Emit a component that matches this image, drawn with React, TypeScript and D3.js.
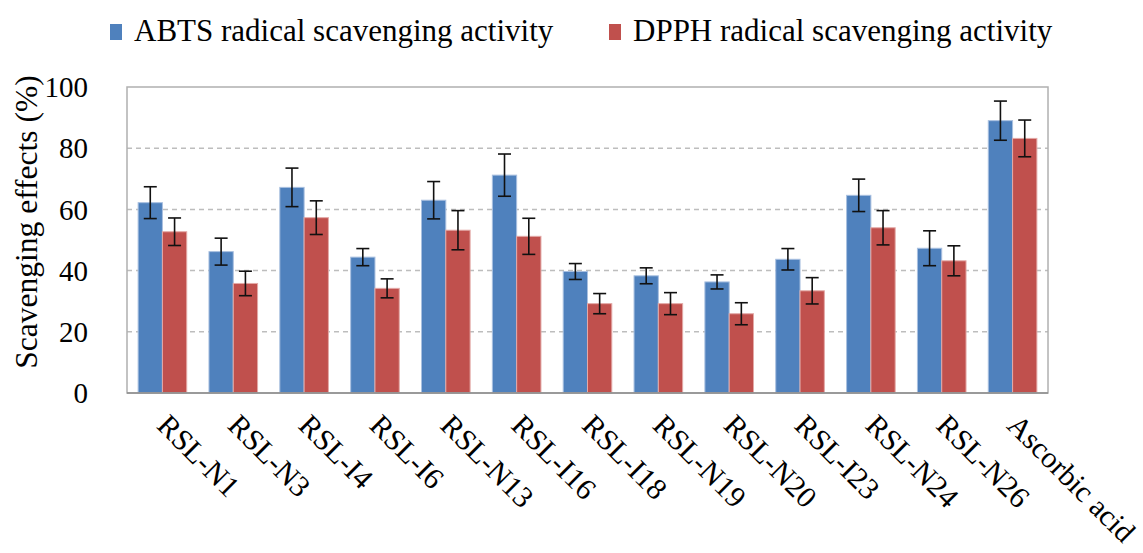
import React, { useEffect, useRef } from 'react';
import * as d3 from 'd3';

const categories = [
  'RSL-N1', 'RSL-N3', 'RSL-I4', 'RSL-I6', 'RSL-N13', 'RSL-I16', 'RSL-I18',
  'RSL-N19', 'RSL-N20', 'RSL-I23', 'RSL-N24', 'RSL-N26', 'Ascorbic acid'
];

const abtsValues = [62.2, 46.2, 67.2, 44.4, 63.0, 71.2, 39.7, 38.3, 36.3, 43.7, 64.6, 47.3, 89.0];
const abtsErrors = [5.2, 4.4, 6.3, 2.8, 6.1, 6.9, 2.6, 2.6, 2.3, 3.5, 5.3, 5.7, 6.4];
const dpphValues = [52.7, 35.8, 57.3, 34.2, 53.2, 51.2, 29.2, 29.2, 25.9, 33.4, 54.0, 43.2, 83.2];
const dpphErrors = [4.5, 4.0, 5.5, 3.1, 6.4, 5.9, 3.3, 3.6, 3.6, 4.3, 5.6, 4.9, 6.0];

const seriesNames = ['ABTS radical scavenging activity', 'DPPH radical scavenging activity'];
const yTicks = [0, 20, 40, 60, 80, 100];

const colors = ['#4F81BD', '#C0504D'];
const edgeColors = ['#a9c0e0', '#e3a9a7'];

const width = 1143;
const height = 553;
const font = '"Liberation Serif", "Times New Roman", serif';

const margins = { l: 127, t: 87, r: 95, b: 160 };

const App = () => {
  const container = useRef(null);

  useEffect(() => {
    document.body.style.margin = '0';
    drawChart();
  }, []);

  const drawChart = () => {
    const svg = d3
      .select(container.current)
      .selectAll('svg')
      .data([0])
      .join('svg')
      .attr('width', width)
      .attr('height', height)
      .style('display', 'block')
      .style('background', '#fff');

    svg.selectAll('*').remove();

    const plotwidth = width - margins.l - margins.r;
    const plotheight = height - margins.t - margins.b;

    const x0 = d3
      .scaleBand()
      .domain(categories)
      .range([margins.l, margins.l + plotwidth])
      .paddingInner(0.314)
      .paddingOuter(0.157);

    const x1 = d3.scaleBand().domain(['0', '1']).range([0, x0.bandwidth()]);

    const y = d3
      .scaleLinear()
      .domain([0, 100])
      .range([margins.t + plotheight, margins.t]);

    // gridlines
    svg
      .append('g')
      .selectAll('line')
      .data(yTicks.filter(t => t > 0 && t < 100))
      .join('line')
      .attr('x1', margins.l)
      .attr('x2', margins.l + plotwidth)
      .attr('y1', d => y(d))
      .attr('y2', d => y(d))
      .attr('stroke', '#bdbdbd')
      .attr('stroke-width', 1.5)
      .attr('stroke-dasharray', '5,4');

    // bars
    const series = [
      { vals: abtsValues, errs: abtsErrors },
      { vals: dpphValues, errs: dpphErrors }
    ];

    const groups = svg
      .append('g')
      .selectAll('g')
      .data(categories)
      .join('g')
      .attr('transform', d => `translate(${x0(d)},0)`);

    groups.each(function(cat, i) {
      const g = d3.select(this);
      series.forEach((s, si) => {
        const bx = x1(String(si));
        const bw = x1.bandwidth();
        g.append('rect')
          .attr('x', bx)
          .attr('y', y(s.vals[i]))
          .attr('width', bw)
          .attr('height', y(0) - y(s.vals[i]))
          .attr('fill', colors[si])
          .attr('stroke', edgeColors[si])
          .attr('stroke-width', 1);

        const cx = bx + bw / 2;
        const top = y(s.vals[i] + s.errs[i]);
        const bot = y(s.vals[i] - s.errs[i]);
        const cap = 6.5;
        g.append('line')
          .attr('x1', cx).attr('x2', cx)
          .attr('y1', top).attr('y2', bot)
          .attr('stroke', '#111').attr('stroke-width', 1.6);
        [top, bot].forEach(yy => {
          g.append('line')
            .attr('x1', cx - cap).attr('x2', cx + cap)
            .attr('y1', yy).attr('y2', yy)
            .attr('stroke', '#111').attr('stroke-width', 1.6);
        });
      });
    });

    // plot frame
    svg
      .append('rect')
      .attr('x', margins.l)
      .attr('y', margins.t)
      .attr('width', plotwidth)
      .attr('height', plotheight)
      .attr('fill', 'none')
      .attr('stroke', '#b0b0b0')
      .attr('stroke-width', 1.5);

    svg
      .append('line')
      .attr('x1', margins.l)
      .attr('x2', margins.l + plotwidth)
      .attr('y1', y(0))
      .attr('y2', y(0))
      .attr('stroke', '#8c8c8c')
      .attr('stroke-width', 1.5);

    // y tick labels
    svg
      .append('g')
      .selectAll('text')
      .data(yTicks)
      .join('text')
      .attr('x', margins.l - 39)
      .attr('y', d => y(d))
      .attr('dy', '0.35em')
      .attr('text-anchor', 'end')
      .style('font-family', font)
      .style('font-size', '29px')
      .attr('fill', '#000')
      .text(d => d);

    // y axis title
    svg
      .append('text')
      .attr('transform', `translate(37,222)rotate(-90)`)
      .attr('text-anchor', 'middle')
      .style('font-family', font)
      .style('font-size', '31.5px')
      .attr('fill', '#000')
      .text('Scavenging effects (%)');

    // x labels
    svg
      .append('g')
      .selectAll('text')
      .data(categories)
      .join('text')
      .attr('transform', d => `translate(${x0(d) + x0.bandwidth() / 2 - 7},${y(0) + 34})rotate(45)`)
      .attr('text-anchor', 'start')
      .style('font-family', font)
      .style('font-size', '30px')
      .attr('fill', '#000')
      .text(d => d);

    // legend
    const legendX = [110, 609];
    const legend = svg
      .append('g')
      .selectAll('g')
      .data(seriesNames)
      .join('g')
      .attr('transform', (d, i) => `translate(${legendX[i]},24)`);
    legend
      .append('rect')
      .attr('width', 12)
      .attr('height', 16)
      .attr('fill', (d, i) => colors[i]);
    legend
      .append('text')
      .attr('x', 24)
      .attr('y', 17)
      .style('font-family', font)
      .style('font-size', '31px')
      .attr('fill', '#000')
      .text(d => d);
  };

  return <div className="chart-container" ref={container}></div>;
};

export default App;
